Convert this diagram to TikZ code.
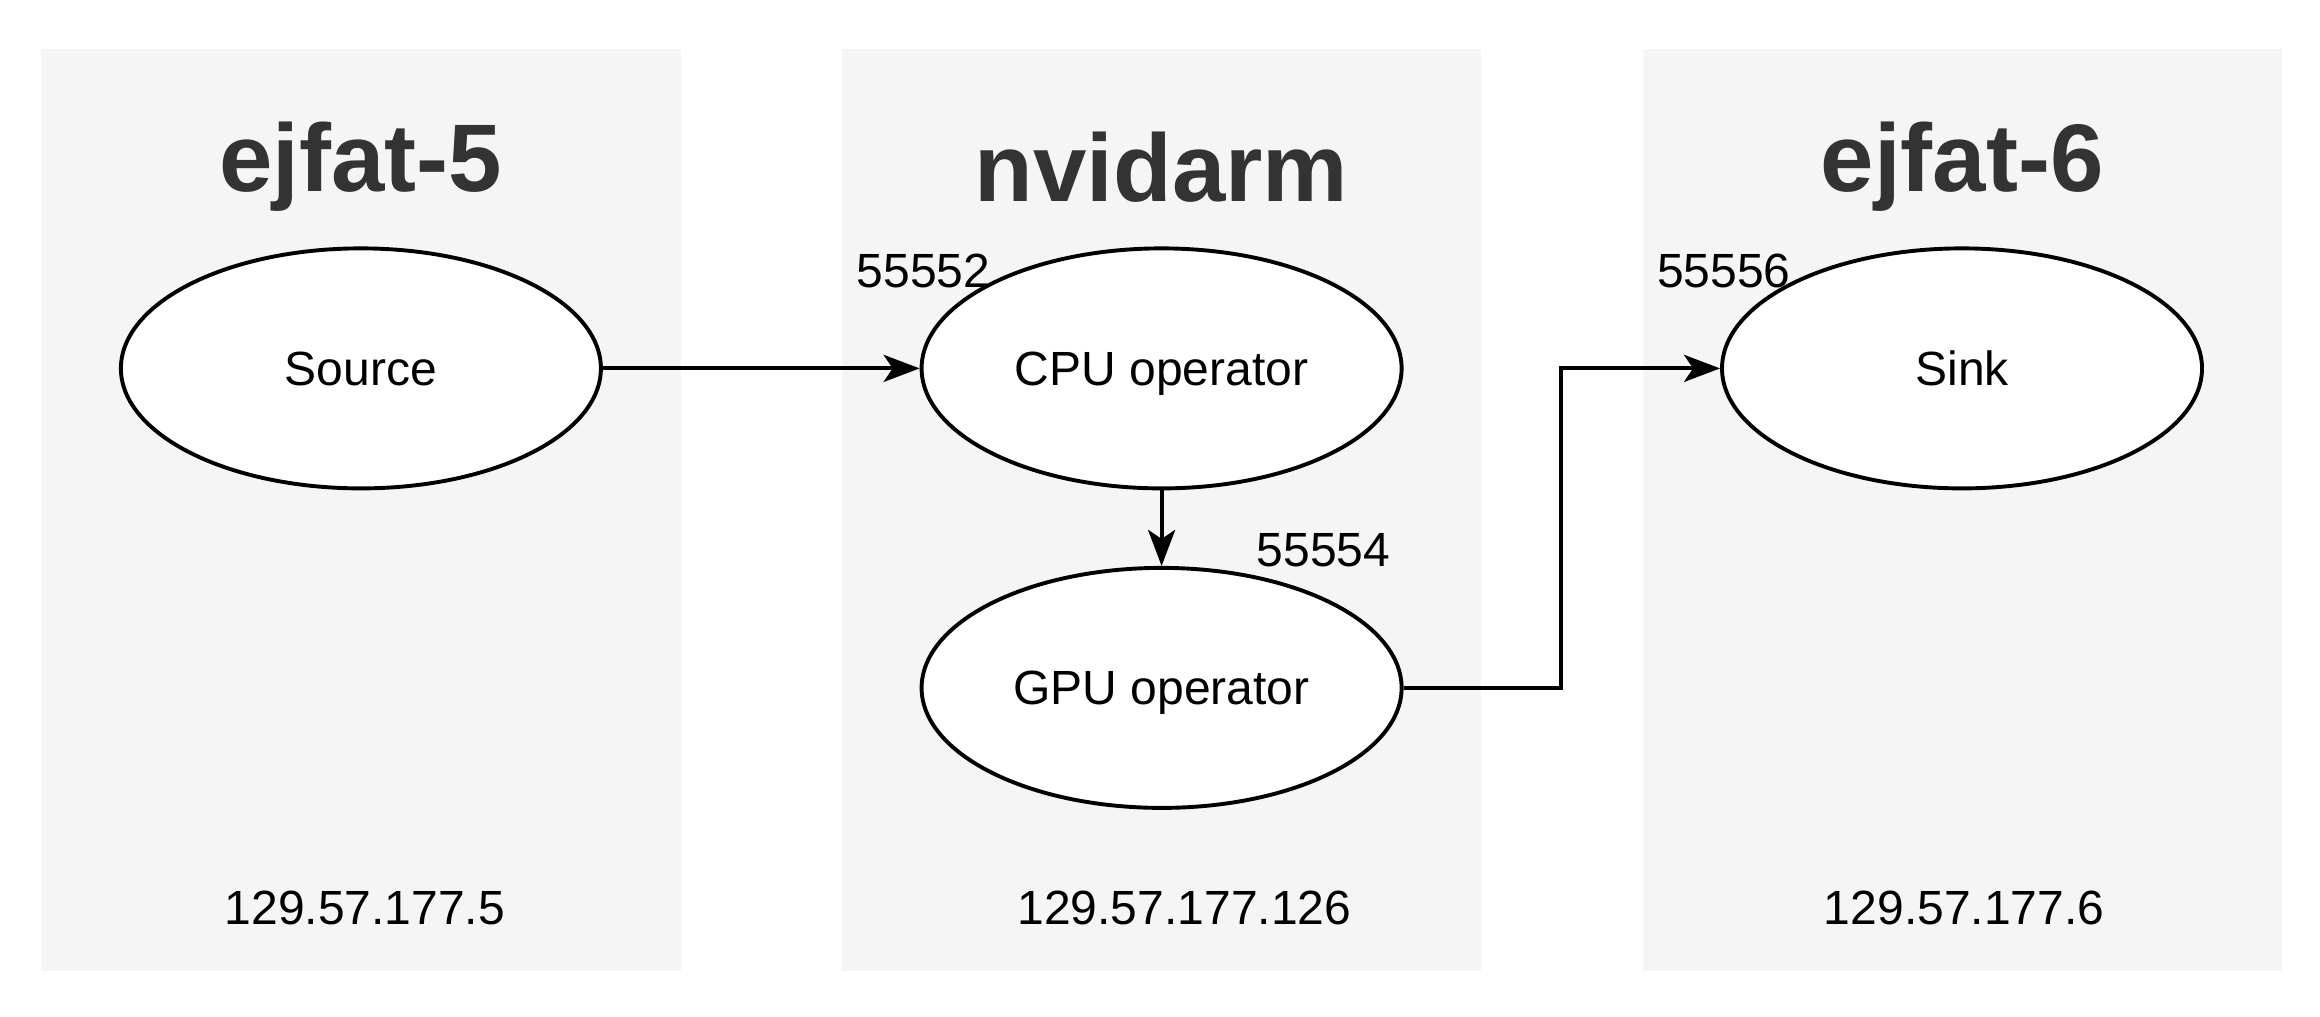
\documentclass[tikz,border=0pt]{standalone}
\usepackage{fontspec}
\setmainfont{Liberation Sans}
\usetikzlibrary{arrows.meta,shapes.geometric}
\definecolor{panelbg}{HTML}{F5F5F5}
\definecolor{titlegray}{HTML}{333333}
\tikzset{
  panel/.style={fill=panelbg,draw=none},
  titletext/.style={font=\fontsize{32}{38}\selectfont\bfseries,text=titlegray,inner sep=0pt},
  opnode/.style={ellipse,draw=black,fill=white,line width=1.3pt,minimum width=160pt,minimum height=80pt,inner sep=0pt,text height=11.6pt,text depth=0.3pt,font=\fontsize{16}{19}\selectfont},
  plaintext/.style={font=\fontsize{16}{19}\selectfont,inner sep=0pt},
  conn/.style={draw=black,line width=1.3pt,-{Stealth[length=12pt,width=9pt,inset=3pt]}}
}
\begin{document}
\begin{tikzpicture}[x=1pt,y=-1pt]
\useasboundingbox (0,0) rectangle (773.33,338.67);
% panels
\path[panel] (13.8,16.3) rectangle (226.9,323.5);
\path[panel] (280.6,16.3) rectangle (493.7,323.5);
\path[panel] (547.5,16.3) rectangle (760.5,323.5);
% titles
\node[titletext] (t1) at (120.3,55.7) {ejfat-5};
\node[titletext] (t2) at (387.2,55.7) {nvidarm};
\node[titletext] (t3) at (654.0,55.7) {ejfat-6};
% operators
\node[opnode] (src) at (120.3,122.8) {Source};
\node[opnode] (cpu) at (387.2,122.8) {CPU operator};
\node[opnode] (gpu) at (387.2,229.3) {GPU operator};
\node[opnode] (sink) at (654.0,122.8) {Sink};
% port labels
\node[plaintext] (p1) at (307.8,90.3) {55552};
\node[plaintext] (p2) at (441.2,183.5) {55554};
\node[plaintext] (p3) at (574.6,90.3) {55556};
% IPs
\node[plaintext] (ip1) at (121.6,302.8) {129.57.177.5};
\node[plaintext] (ip2) at (394.8,302.8) {129.57.177.126};
\node[plaintext] (ip3) at (654.7,302.8) {129.57.177.6};
% connectors
\coordinate (bend1) at (520.3,229.3);
\coordinate (bend2) at (520.3,122.8);
\draw[conn] (src.east) -- (cpu.west);
\draw[conn] (cpu.south) -- (gpu.north);
\draw[conn] (gpu.east) -- (bend1) -- (bend2) -- (sink.west);
\end{tikzpicture}
\end{document}
